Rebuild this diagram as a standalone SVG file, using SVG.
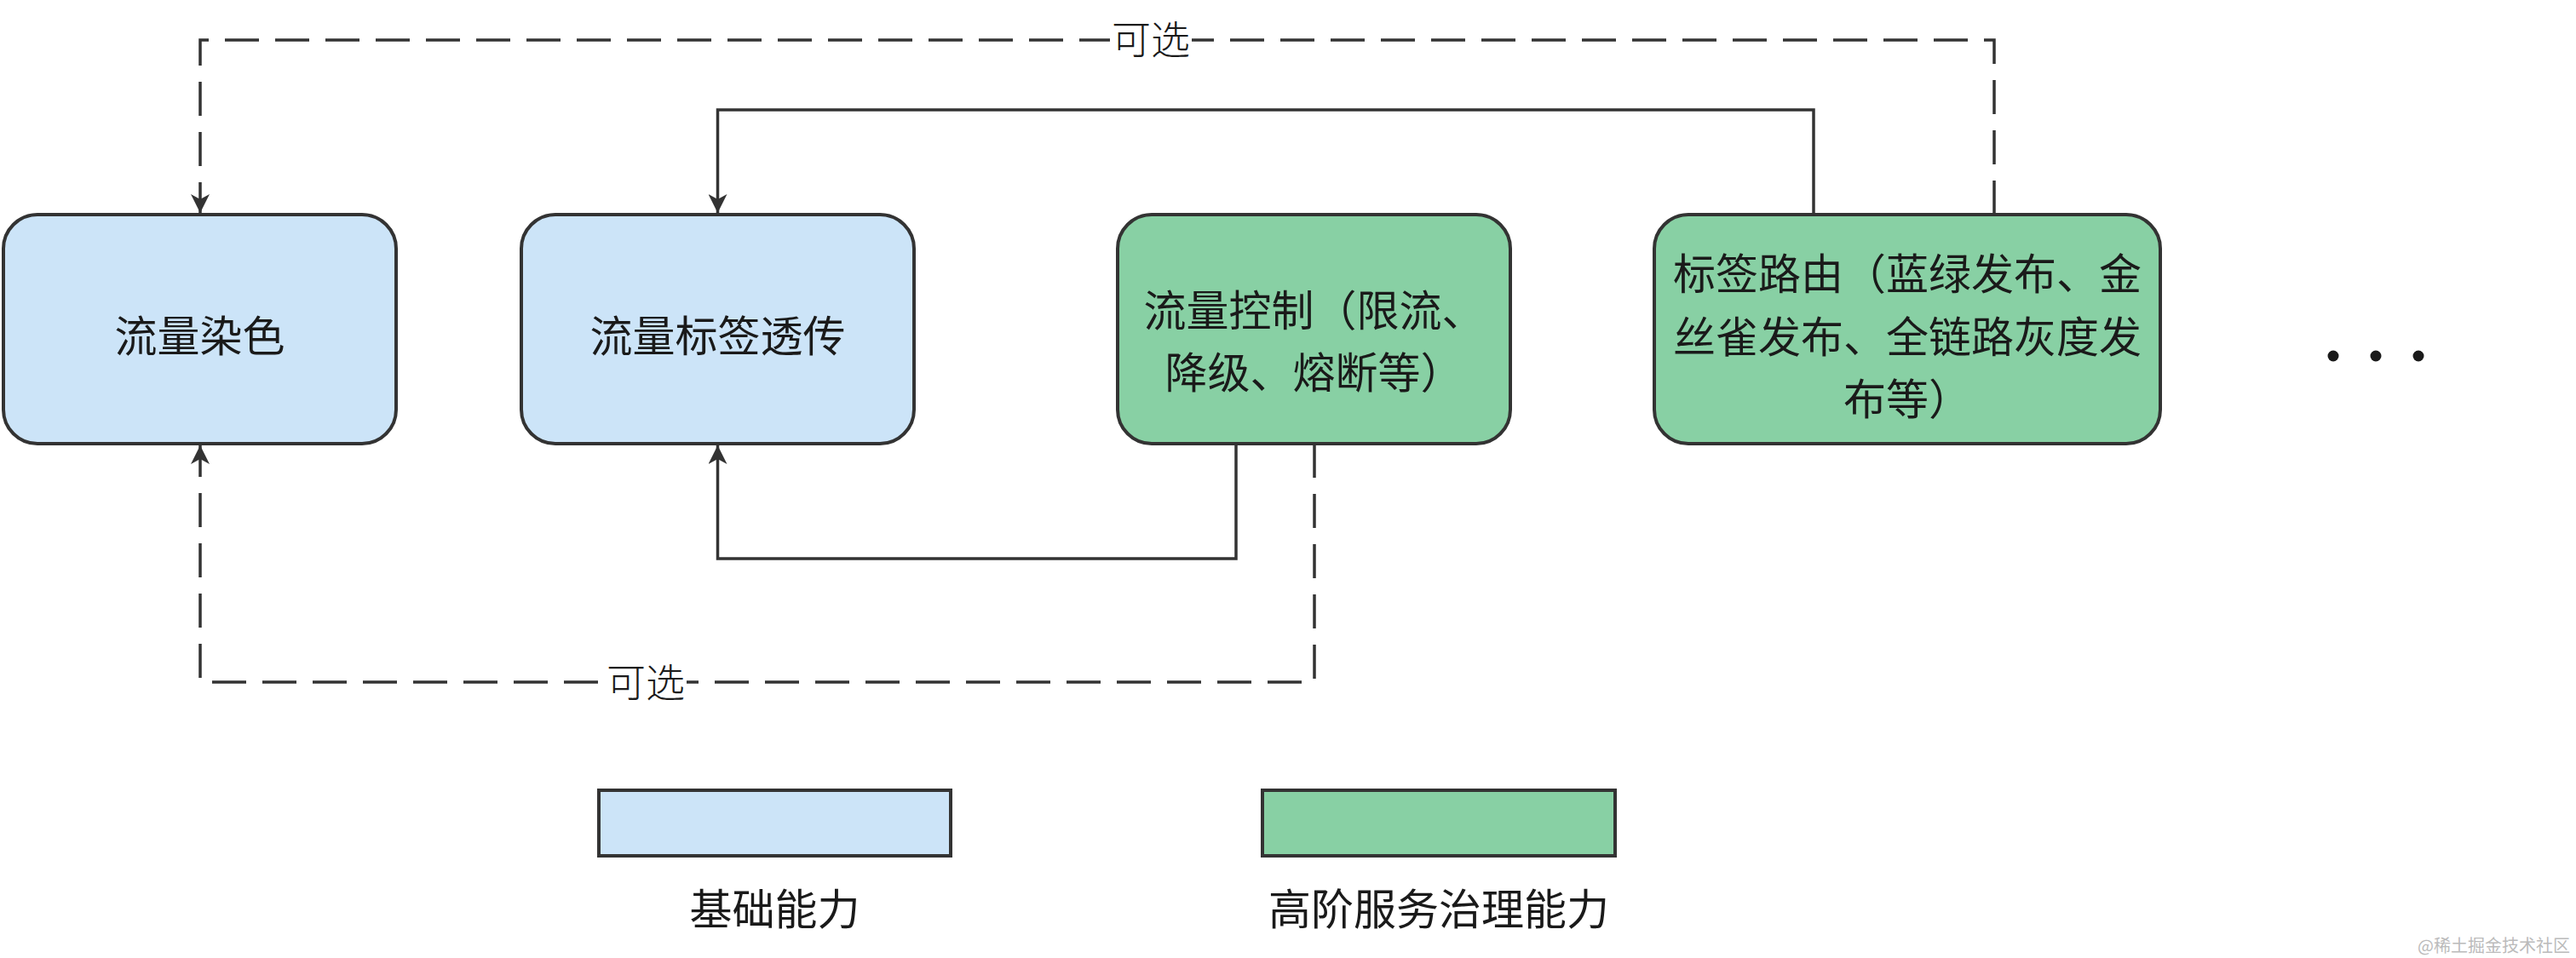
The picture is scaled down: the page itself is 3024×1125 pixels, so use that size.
<svg xmlns="http://www.w3.org/2000/svg" width="3024" height="1125" viewBox="0 0 3024 1125">
<style>
.txt{font-family:"Noto Sans CJK SC","Noto Sans",sans-serif;font-size:50px;fill:#1a1a1a;text-anchor:middle;dominant-baseline:central}
.lbl{font-family:"Liberation Serif","Noto Sans CJK SC",serif;font-size:46px;font-weight:300;fill:#1a1a1a;text-anchor:middle;dominant-baseline:central}
.blue{fill:#CCE4F8;stroke:#333333;stroke-width:4}
.green{fill:#88D0A4;stroke:#333333;stroke-width:4}
.ln{fill:none;stroke:#333333;stroke-width:3.5}
.dash{stroke-dasharray:40 19}
</style>
<defs>
<marker id="arr" viewBox="0 0 24 22" refX="22" refY="11" markerWidth="24" markerHeight="22" markerUnits="userSpaceOnUse" orient="auto">
<path d="M0,0 L22,11 L0,22 L6,11 Z" fill="#333333"/>
</marker>
</defs>
<rect width="3024" height="1125" fill="#ffffff"/>
<g id="connectors">
<path class="ln dash" d="M2341,252 V47 H235 V250" marker-end="url(#arr)"/>
<path class="ln" d="M2129,252 V129 H842.5 V250" marker-end="url(#arr)"/>
<path class="ln" d="M1451,521 V656 H842.5 V523" marker-end="url(#arr)"/>
<path class="ln dash" d="M1543,521 V801 H235 V523" marker-end="url(#arr)"/>
<rect x="1303" y="22" width="96" height="52" fill="#ffffff"/>
<text class="lbl" x="1351" y="47">可选</text>
<rect x="710" y="776" width="96" height="52" fill="#ffffff"/>
<text class="lbl" x="758" y="802">可选</text>
</g>
<g id="node-ranse">
<rect class="blue" x="4" y="252" width="461" height="269" rx="40" ry="40"/>
<text class="txt" x="234.5" y="391">流量染色</text>
</g>
<g id="node-toucuan">
<rect class="blue" x="612" y="252" width="461" height="269" rx="40" ry="40"/>
<text class="txt" x="842.5" y="391">流量标签透传</text>
</g>
<g id="node-kongzhi">
<rect class="green" x="1312" y="252" width="461" height="269" rx="40" ry="40"/>
<text class="txt" x="1542.5" y="361">流量控制（限流、</text>
<text class="txt" x="1542.5" y="434">降级、熔断等）</text>
</g>
<g id="node-luyou">
<rect class="green" x="1942" y="252" width="594" height="269" rx="40" ry="40"/>
<text class="txt" x="2239" y="318">标签路由（蓝绿发布、金</text>
<text class="txt" x="2239" y="392">丝雀发布、全链路灰度发</text>
<text class="txt" x="2239" y="465">布等）</text>
</g>
<g id="ellipsis">
<circle cx="2739" cy="418" r="6.5" fill="#1a1a1a"/>
<circle cx="2789" cy="418" r="6.5" fill="#1a1a1a"/>
<circle cx="2839" cy="418" r="6.5" fill="#1a1a1a"/>
</g>
<g id="legend-basic">
<rect class="blue" x="703" y="928" width="413" height="77"/>
<text class="txt" x="909.5" y="1064">基础能力</text>
</g>
<g id="legend-advanced">
<rect class="green" x="1482" y="928" width="414" height="77"/>
<text class="txt" x="1689" y="1064">高阶服务治理能力</text>
</g>
<text x="3017" y="1109" font-family="'Noto Sans CJK SC',sans-serif" font-size="20" fill="#bbbbbb" text-anchor="end" dominant-baseline="central">@稀土掘金技术社区</text>
</svg>
